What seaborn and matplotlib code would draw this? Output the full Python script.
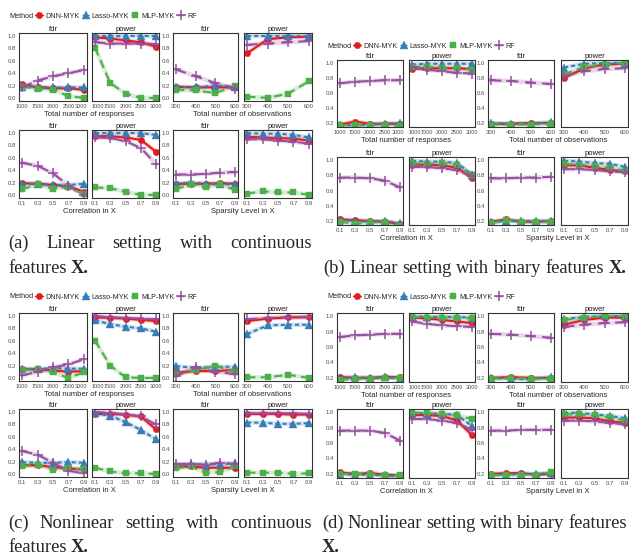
import matplotlib
matplotlib.use("Agg")
import matplotlib.pyplot as plt
from matplotlib.lines import Line2D
from matplotlib.transforms import ScaledTranslation
import pandas as pd
import seaborn as sns

# -------------------- Shared values -------------------- #
methods = ["DNN-MYK", "Lasso-MYK", "MLP-MYK", "RF"]
n_responses = [1000, 1500, 2000, 2500, 3000]
n_observations = [300, 400, 500, 600]
correlation = [0.1, 0.3, 0.5, 0.7, 0.9]
sparsity = [0.1, 0.3, 0.5, 0.7, 0.9]

# -------------------- (a) Linear setting, continuous X -------------------- #
a_resp_fdr = {"DNN-MYK": [0.22, 0.17, 0.155, 0.155, 0.13], "Lasso-MYK": [0.18, 0.18, 0.17, 0.17, 0.17],
              "MLP-MYK": [0.18, 0.15, 0.13, 0.03, 0.00], "RF": [0.17, 0.28, 0.35, 0.40, 0.45]}
a_resp_power = {"DNN-MYK": [0.98, 0.96, 0.93, 0.90, 0.83], "Lasso-MYK": [1.00, 1.00, 1.00, 1.00, 1.00],
                "MLP-MYK": [0.81, 0.24, 0.07, 0.00, 0.00], "RF": [0.90, 0.88, 0.88, 0.88, 0.87]}
a_obs_fdr = {"DNN-MYK": [0.18, 0.17, 0.17, 0.17], "Lasso-MYK": [0.18, 0.17, 0.20, 0.18],
             "MLP-MYK": [0.13, 0.12, 0.08, 0.19], "RF": [0.46, 0.35, 0.24, 0.15]}
a_obs_power = {"DNN-MYK": [0.72, 0.95, 0.98, 0.99], "Lasso-MYK": [1.00, 1.00, 1.00, 1.00],
               "MLP-MYK": [0.02, 0.00, 0.07, 0.27], "RF": [0.86, 0.88, 0.90, 0.92]}
a_corr_fdr = {"DNN-MYK": [0.19, 0.18, 0.16, 0.14, 0.05], "Lasso-MYK": [0.17, 0.18, 0.16, 0.16, 0.18],
              "MLP-MYK": [0.09, 0.17, 0.10, 0.13, 0.01], "RF": [0.52, 0.47, 0.35, 0.15, 0.00]}
a_corr_power = {"DNN-MYK": [0.95, 0.95, 0.93, 0.89, 0.70], "Lasso-MYK": [1.00, 1.00, 1.00, 1.00, 0.97],
                "MLP-MYK": [0.12, 0.11, 0.05, 0.00, 0.00], "RF": [0.93, 0.92, 0.87, 0.76, 0.50]}
a_spar_fdr = {"DNN-MYK": [0.18, 0.18, 0.18, 0.19, 0.18], "Lasso-MYK": [0.18, 0.20, 0.18, 0.17, 0.18],
              "MLP-MYK": [0.09, 0.18, 0.13, 0.17, 0.08], "RF": [0.33, 0.33, 0.34, 0.36, 0.37]}
a_spar_power = {"DNN-MYK": [0.94, 0.93, 0.92, 0.91, 0.88], "Lasso-MYK": [1.00, 0.99, 0.99, 0.97, 0.93],
                "MLP-MYK": [0.02, 0.06, 0.04, 0.04, 0.00], "RF": [0.90, 0.90, 0.88, 0.86, 0.83]}

# -------------------- (b) Linear setting, binary X -------------------- #
b_resp_fdr = {"DNN-MYK": [0.18, 0.22, 0.19, 0.19, 0.19], "Lasso-MYK": [0.17, 0.17, 0.18, 0.19, 0.20],
              "MLP-MYK": [0.17, 0.17, 0.17, 0.18, 0.16], "RF": [0.73, 0.75, 0.76, 0.77, 0.77]}
b_resp_power = {"DNN-MYK": [0.92, 0.93, 0.93, 0.93, 0.92], "Lasso-MYK": [0.98, 0.99, 0.99, 0.99, 0.99],
                "MLP-MYK": [0.95, 0.95, 0.94, 0.93, 0.91], "RF": [0.95, 0.91, 0.89, 0.87, 0.86]}
b_obs_fdr = {"DNN-MYK": [0.19, 0.19, 0.20, 0.20], "Lasso-MYK": [0.20, 0.19, 0.19, 0.21],
             "MLP-MYK": [0.18, 0.18, 0.18, 0.19], "RF": [0.77, 0.76, 0.74, 0.72]}
b_obs_power = {"DNN-MYK": [0.80, 0.93, 0.98, 0.99], "Lasso-MYK": [0.94, 0.99, 1.00, 1.00],
               "MLP-MYK": [0.85, 0.95, 0.98, 1.00], "RF": [0.83, 0.89, 0.92, 0.93]}
b_corr_fdr = {"DNN-MYK": [0.22, 0.21, 0.20, 0.19, 0.16], "Lasso-MYK": [0.21, 0.20, 0.19, 0.20, 0.17],
              "MLP-MYK": [0.19, 0.16, 0.18, 0.18, 0.14], "RF": [0.77, 0.77, 0.76, 0.73, 0.64]}
b_corr_power = {"DNN-MYK": [0.94, 0.94, 0.93, 0.90, 0.76], "Lasso-MYK": [0.99, 0.98, 0.98, 0.96, 0.81],
                "MLP-MYK": [0.96, 0.95, 0.96, 0.94, 0.80], "RF": [0.91, 0.91, 0.89, 0.87, 0.79]}
b_spar_fdr = {"DNN-MYK": [0.19, 0.22, 0.19, 0.19, 0.20], "Lasso-MYK": [0.19, 0.20, 0.20, 0.20, 0.20],
              "MLP-MYK": [0.17, 0.21, 0.19, 0.18, 0.19], "RF": [0.76, 0.76, 0.77, 0.77, 0.78]}
b_spar_power = {"DNN-MYK": [0.93, 0.93, 0.90, 0.87, 0.85], "Lasso-MYK": [0.99, 0.98, 0.96, 0.95, 0.91],
                "MLP-MYK": [0.95, 0.94, 0.92, 0.90, 0.86], "RF": [0.88, 0.88, 0.87, 0.85, 0.84]}

# -------------------- (c) Nonlinear setting, continuous X -------------------- #
c_resp_fdr = {"DNN-MYK": [0.14, 0.14, 0.12, 0.10, 0.11], "Lasso-MYK": [0.15, 0.14, 0.16, 0.15, 0.15],
              "MLP-MYK": [0.12, 0.14, 0.09, 0.00, 0.09], "RF": [0.04, 0.10, 0.17, 0.22, 0.30]}
c_resp_power = {"DNN-MYK": [0.98, 0.97, 0.96, 0.94, 0.92], "Lasso-MYK": [0.93, 0.87, 0.83, 0.80, 0.75],
                "MLP-MYK": [0.60, 0.20, 0.01, 0.00, 0.00], "RF": [1.00, 0.98, 0.97, 0.96, 0.95]}
c_obs_fdr = {"DNN-MYK": [0.09, 0.11, 0.11, 0.13], "Lasso-MYK": [0.19, 0.16, 0.18, 0.18],
             "MLP-MYK": [0.06, 0.12, 0.20, 0.09], "RF": [0.03, 0.17, 0.10, 0.06]}
c_obs_power = {"DNN-MYK": [0.92, 0.96, 0.98, 0.98], "Lasso-MYK": [0.71, 0.85, 0.86, 0.86],
               "MLP-MYK": [0.01, 0.01, 0.05, 0.00], "RF": [0.95, 0.97, 0.98, 0.99]}
c_corr_fdr = {"DNN-MYK": [0.14, 0.14, 0.11, 0.09, 0.07], "Lasso-MYK": [0.19, 0.18, 0.18, 0.19, 0.18],
              "MLP-MYK": [0.12, 0.15, 0.07, 0.09, 0.08], "RF": [0.37, 0.31, 0.18, 0.05, 0.01]}
c_corr_power = {"DNN-MYK": [0.97, 0.97, 0.96, 0.93, 0.72], "Lasso-MYK": [0.98, 0.94, 0.84, 0.71, 0.56],
                "MLP-MYK": [0.10, 0.04, 0.01, 0.01, 0.00], "RF": [1.00, 0.99, 0.96, 0.93, 0.80]}
c_spar_fdr = {"DNN-MYK": [0.12, 0.12, 0.10, 0.10, 0.10], "Lasso-MYK": [0.15, 0.16, 0.15, 0.16, 0.17],
              "MLP-MYK": [0.09, 0.12, 0.02, 0.03, 0.12], "RF": [0.16, 0.16, 0.15, 0.18, 0.16]}
c_spar_power = {"DNN-MYK": [0.97, 0.97, 0.97, 0.96, 0.96], "Lasso-MYK": [0.83, 0.83, 0.81, 0.81, 0.82],
                "MLP-MYK": [0.02, 0.02, 0.02, 0.00, 0.01], "RF": [0.98, 0.98, 0.98, 0.98, 0.97]}

# -------------------- (d) Nonlinear setting, binary X -------------------- #
d_resp_fdr = {"DNN-MYK": [0.21, 0.20, 0.20, 0.21, 0.21], "Lasso-MYK": [0.20, 0.21, 0.20, 0.21, 0.19],
              "MLP-MYK": [0.17, 0.19, 0.19, 0.20, 0.20], "RF": [0.73, 0.75, 0.76, 0.77, 0.77]}
d_resp_power = {"DNN-MYK": [0.98, 0.97, 0.95, 0.93, 0.91], "Lasso-MYK": [1.00, 0.99, 0.99, 0.99, 0.98],
                "MLP-MYK": [0.99, 0.98, 0.98, 0.98, 0.97], "RF": [0.93, 0.90, 0.88, 0.87, 0.86]}
d_obs_fdr = {"DNN-MYK": [0.20, 0.21, 0.20, 0.20], "Lasso-MYK": [0.20, 0.19, 0.18, 0.21],
             "MLP-MYK": [0.19, 0.20, 0.19, 0.19], "RF": [0.77, 0.76, 0.74, 0.72]}
d_obs_power = {"DNN-MYK": [0.89, 0.95, 0.98, 0.98], "Lasso-MYK": [0.96, 0.99, 1.00, 1.00],
               "MLP-MYK": [0.95, 0.98, 1.00, 1.00], "RF": [0.86, 0.89, 0.91, 0.92]}
d_corr_fdr = {"DNN-MYK": [0.22, 0.20, 0.21, 0.19, 0.18], "Lasso-MYK": [0.20, 0.19, 0.19, 0.18, 0.17],
              "MLP-MYK": [0.20, 0.20, 0.20, 0.18, 0.18], "RF": [0.76, 0.76, 0.76, 0.73, 0.63]}
d_corr_power = {"DNN-MYK": [0.96, 0.96, 0.95, 0.89, 0.70], "Lasso-MYK": [0.99, 0.98, 0.98, 0.96, 0.82],
                "MLP-MYK": [0.99, 0.99, 0.97, 0.96, 0.91], "RF": [0.91, 0.91, 0.89, 0.86, 0.77]}
d_spar_fdr = {"DNN-MYK": [0.20, 0.21, 0.21, 0.19, 0.20], "Lasso-MYK": [0.19, 0.19, 0.20, 0.20, 0.21],
              "MLP-MYK": [0.18, 0.19, 0.19, 0.19, 0.22], "RF": [0.76, 0.76, 0.77, 0.77, 0.77]}
d_spar_power = {"DNN-MYK": [0.93, 0.93, 0.92, 0.88, 0.86], "Lasso-MYK": [0.99, 0.99, 0.97, 0.95, 0.92],
                "MLP-MYK": [0.97, 0.97, 0.96, 0.93, 0.89], "RF": [0.89, 0.89, 0.88, 0.86, 0.84]}

# -------------------- Styles -------------------- #
palette = {"DNN-MYK": "#E41A1C", "Lasso-MYK": "#377EB8", "MLP-MYK": "#4DAF4A", "RF": "#984EA3"}
# seaborn won't mix filled and line-art markers, so RF gets "P" and is switched to "+" afterwards
sns_markers = {"DNN-MYK": "o", "Lasso-MYK": "^", "MLP-MYK": "s", "RF": "P"}
marker_map = {"DNN-MYK": "o", "Lasso-MYK": "^", "MLP-MYK": "s", "RF": "+"}
marker_size = {"DNN-MYK": 4.6, "Lasso-MYK": 5.2, "MLP-MYK": 4.4, "RF": 7.5}
dash_map = {"DNN-MYK": "", "Lasso-MYK": (2.0, 1.4), "MLP-MYK": (4.0, 2.5), "RF": (5.0, 3.2)}

sns.set_theme(style="white")
plt.rcParams["font.family"] = ["Liberation Sans", "DejaVu Sans"]

W, H = 629, 559
fig = plt.figure(figsize=(W / 100, H / 100), dpi=100)


def rect(x0, x1, y0, y1):
    return [x0 / W, 1 - y1 / H, (x1 - x0) / W, (y1 - y0) / H]


def long_df(xvals, fdr, power):
    rows = []
    for metric, d in [("fdr", fdr), ("power", power)]:
        for m in methods:
            for x, v in zip(xvals, d[m]):
                rows.append((metric, m, x, v))
    return pd.DataFrame(rows, columns=["metric", "Method", "x", "value"])


def fix_lines(lines):
    for line, m in zip(lines, methods):
        line.set_marker(marker_map[m])
        line.set_markersize(marker_size[m])
        line.set_markeredgecolor(palette[m])
        line.set_markeredgewidth(1.1 if m == "RF" else 0.3)


def nudge(label, dx_pt):
    label.set_transform(label.get_transform() + ScaledTranslation(dx_pt / 72, 0, fig.dpi_scale_trans))


x_specs = [
    (n_responses, (900, 3100), [str(v) for v in n_responses], "Total number of responses"),
    (n_observations, (285, 615), [str(v) for v in n_observations], "Total number of observations"),
    (correlation, (0.06, 0.94), [f"{v:.1f}" for v in correlation], "Correlation in X"),
    (sparsity, (0.06, 0.94), [f"{v:.1f}" for v in sparsity], "Sparsity Level in X"),
]

left_cols = [(19, 87), (92, 159), (173, 238), (244, 312)]
right_cols = [(337, 403), (409, 475), (488, 554), (561, 628)]
full_ticks = [0.0, 0.2, 0.4, 0.6, 0.8, 1.0]
high_ticks = [0.2, 0.4, 0.6, 0.8, 1.0]

panels = [
    dict(cols=left_cols, rows=[(33, 101), (130, 198)], legend=(9, 16), ylim=(-0.05, 1.05), yticks=full_ticks,
         pairs=[(a_resp_fdr, a_resp_power), (a_obs_fdr, a_obs_power),
                (a_corr_fdr, a_corr_power), (a_spar_fdr, a_spar_power)]),
    dict(cols=right_cols, rows=[(60, 127), (157, 225)], legend=(327, 46), ylim=(0.147, 1.04), yticks=high_ticks,
         pairs=[(b_resp_fdr, b_resp_power), (b_obs_fdr, b_obs_power),
                (b_corr_fdr, b_corr_power), (b_spar_fdr, b_spar_power)]),
    dict(cols=left_cols, rows=[(313, 381), (409, 477)], legend=(9, 297), ylim=(-0.05, 1.05), yticks=full_ticks,
         pairs=[(c_resp_fdr, c_resp_power), (c_obs_fdr, c_obs_power),
                (c_corr_fdr, c_corr_power), (c_spar_fdr, c_spar_power)]),
    dict(cols=right_cols, rows=[(313, 382), (409, 478)], legend=(327, 297), ylim=(0.147, 1.04), yticks=high_ticks,
         pairs=[(d_resp_fdr, d_resp_power), (d_obs_fdr, d_obs_power),
                (d_corr_fdr, d_corr_power), (d_spar_fdr, d_spar_power)]),
]

# -------------------- Draw the facets -------------------- #
for panel in panels:
    for k, (fdr, power) in enumerate(panel["pairs"]):
        xvals, xlim, xlabels, xtitle = x_specs[k]
        top, bottom = panel["rows"][k // 2]
        df = long_df(xvals, fdr, power)
        pair_cols = panel["cols"][2 * (k % 2): 2 * (k % 2) + 2]
        for j, metric in enumerate(["fdr", "power"]):
            x0, x1 = pair_cols[j]
            ax = fig.add_axes(rect(x0, x1, top, bottom))
            sub = df[df["metric"] == metric]
            # faint wide band under each line
            sns.lineplot(data=sub, x="x", y="value", hue="Method", hue_order=methods,
                         palette=palette, linewidth=3.2, alpha=0.22, legend=False, ax=ax)
            n_band = len(ax.lines)
            sns.lineplot(data=sub, x="x", y="value",
                         hue="Method", style="Method", hue_order=methods, style_order=methods,
                         palette=palette, markers=sns_markers, dashes=dash_map,
                         linewidth=1.5, legend=False, ax=ax)
            fix_lines(ax.lines[n_band:])
            ax.set_xlim(xlim)
            ax.set_ylim(panel["ylim"])
            ax.set_xticks(xvals)
            ax.set_xticklabels(xlabels)
            ax.set_yticks(panel["yticks"])
            ax.set_yticklabels([f"{v:.1f}" for v in panel["yticks"]])
            ax.set_xlabel("")
            ax.set_ylabel("")
            ax.tick_params(labelsize=4.3, colors="#4D4D4D", length=1.5, width=0.5, pad=0.8)
            if k == 0:
                # the 4-digit labels crowd each other where the two facets meet
                ax.tick_params(axis="x", labelsize=4.0)
                if j == 0:
                    nudge(ax.get_xticklabels()[-1], -1.8)
                else:
                    nudge(ax.get_xticklabels()[0], 1.8)
            if j == 1:
                ax.tick_params(axis="y", left=False, labelleft=False)
            for s in ax.spines.values():
                s.set_visible(True)
                s.set_color("#333333")
                s.set_linewidth(0.8)
            ax.set_title(metric, fontsize=5.5, color="#1A1A1A", pad=1.5)
        cx = (pair_cols[0][0] + pair_cols[1][1]) / 2
        fig.text(cx / W, 1 - (bottom + 13.5) / H, xtitle, fontsize=5.5, ha="center", va="center")

    # legend
    lx, ly = panel["legend"]
    fig.text(lx / W, 1 - ly / H, "Method", fontsize=5.2, va="center", ha="left")
    handles = [Line2D([0], [0], color=palette[m], marker=marker_map[m], markersize=marker_size[m],
                      markeredgecolor=palette[m], markeredgewidth=1.1 if m == "RF" else 0.3,
                      linewidth=1.0, dashes=dash_map[m] if dash_map[m] else (None, None))
               for m in methods]
    fig.legend(handles, methods, loc="center left", bbox_to_anchor=((lx + 26) / W, 1 - ly / H),
               ncol=4, frameon=False, fontsize=5.2, handlelength=1.1, handletextpad=0.3,
               columnspacing=0.3, borderpad=0, borderaxespad=0)

# -------------------- Captions -------------------- #
cap_fs = 13.3
renderer = fig.canvas.get_renderer()


def caption_line(words, x0, baseline, x1=None):
    texts = []
    for w in words:
        t = fig.text(0, 1 - baseline / H, w, fontsize=cap_fs, family="Liberation Serif",
                     weight="bold" if w.startswith("X") else "normal", va="baseline", ha="left")
        texts.append(t)
    widths = [t.get_window_extent(renderer).width for t in texts]
    if x1 is None or len(words) == 1:
        gap = 0.25 * cap_fs * 100 / 72
    else:
        gap = (x1 - x0 - sum(widths)) / (len(words) - 1)
    x = x0
    for t, w in zip(texts, widths):
        t.set_x(x / W)
        x += w + gap


caption_line(["(a)", "Linear", "setting", "with", "continuous"], 8, 248, 312)
caption_line(["features", "X."], 8, 273)
caption_line(["(b)", "Linear", "setting", "with", "binary", "features", "X."], 323, 273, 627)
caption_line(["(c)", "Nonlinear", "setting", "with", "continuous"], 8, 527.5, 312)
caption_line(["features", "X."], 8, 552)
caption_line(["(d)", "Nonlinear", "setting", "with", "binary", "features"], 322, 527.5, 627)
caption_line(["X."], 322, 552)

fig.savefig("out.png", dpi=100)
